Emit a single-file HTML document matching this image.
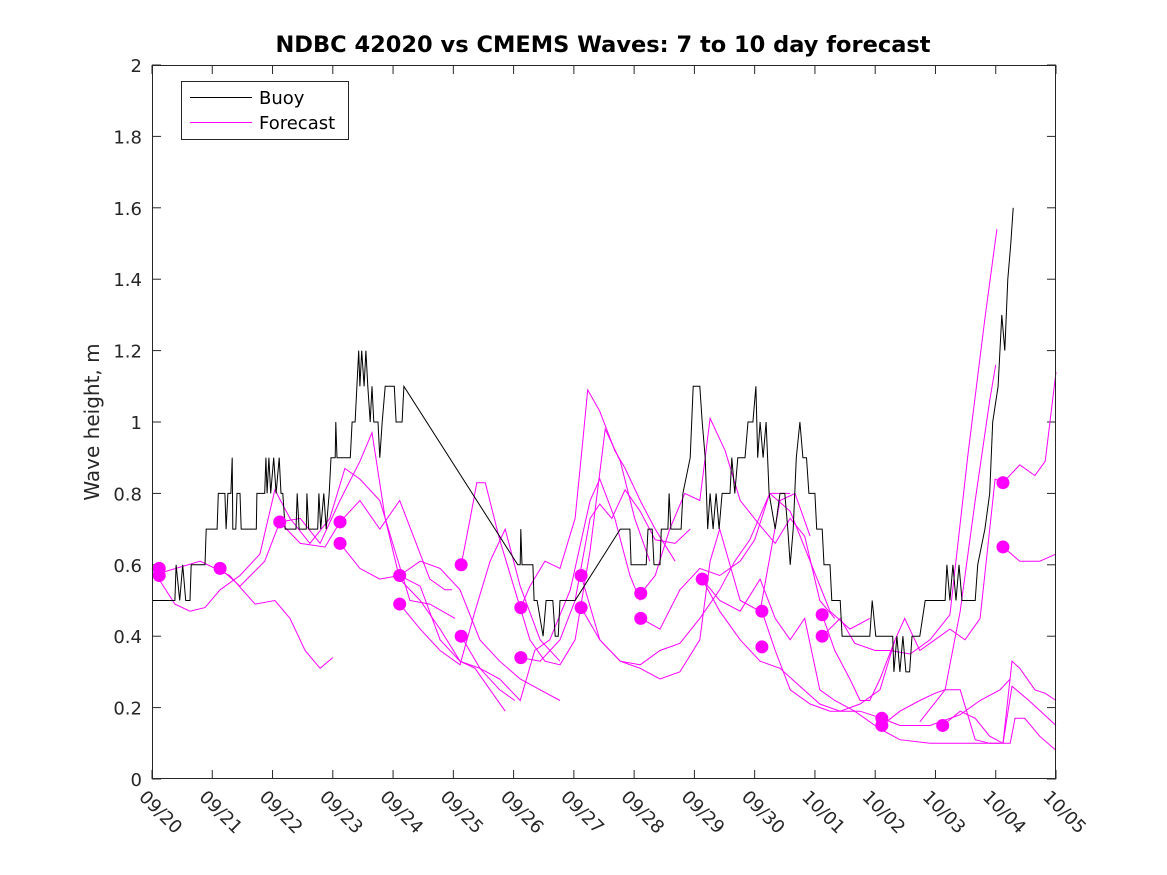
<!DOCTYPE html>
<html><head><meta charset="utf-8">
<style>
html,body{margin:0;padding:0;background:#fff;}
svg{display:block;font-family:"DejaVu Sans","Liberation Sans",sans-serif;}
</style></head>
<body>
<svg id="chart" width="1167" height="875" viewBox="0 0 1167 875">
  <rect x="0" y="0" width="1167" height="875" fill="#fff"/>
  <text x="603" y="52" text-anchor="middle" font-size="22.5" font-weight="bold" fill="#000">NDBC 42020 vs CMEMS Waves: 7 to 10 day forecast</text>
  <text transform="translate(99,422) rotate(-90)" text-anchor="middle" font-size="20" fill="#262626">Wave height, m</text>
  <g id="axes"></g>
  <g id="series"></g>
  <rect x="152.5" y="65.5" width="903" height="713" fill="none" stroke="#262626" stroke-width="1"/>
  <g>
    <rect x="181.5" y="81.5" width="167" height="58" fill="#fff" stroke="#262626" stroke-width="1"/>
    <line x1="190" y1="97.5" x2="252" y2="97.5" stroke="#000" stroke-width="1"/>
    <text x="259" y="104" font-size="18" fill="#000">Buoy</text>
    <line x1="190" y1="122.5" x2="252" y2="122.5" stroke="#ff00ff" stroke-width="1"/>
    <text x="259" y="129" font-size="18" fill="#000">Forecast</text>
  </g>
</svg>
<script>
const xTickLabels = ["09/20","09/21","09/22","09/23","09/24","09/25","09/26","09/27","09/28","09/29","09/30","10/01","10/02","10/03","10/04","10/05"];
const yTickValues = [0,0.2,0.4,0.6,0.8,1,1.2,1.4,1.6,1.8,2];
const yTickLabels = ["0","0.2","0.4","0.6","0.8","1","1.2","1.4","1.6","1.8","2"];

const buoyDays = [0,0.38,0.40,0.46,0.51,0.56,0.63,0.65,0.88,0.90,1.08,1.10,1.21,1.23,1.26,1.31,1.33,1.34,1.39,1.41,1.46,1.48,1.73,1.74,1.87,1.89,1.91,1.94,1.97,2.02,2.06,2.11,2.14,2.17,2.21,2.39,2.41,2.44,2.56,2.57,2.60,2.75,2.77,2.80,2.85,2.89,2.94,2.97,3.04,3.05,3.07,3.29,3.32,3.37,3.40,3.43,3.45,3.48,3.52,3.55,3.58,3.62,3.65,3.68,3.75,3.78,3.82,3.87,4.02,4.05,4.15,4.18,6.07,6.11,6.12,6.14,6.32,6.34,6.39,6.49,6.54,6.65,6.69,6.74,6.77,6.85,7.02,7.77,7.93,7.95,8.20,8.23,8.30,8.33,8.43,8.45,8.56,8.58,8.61,8.78,8.81,8.93,8.98,9.09,9.13,9.18,9.22,9.26,9.31,9.36,9.41,9.46,9.59,9.62,9.67,9.72,9.84,9.89,9.97,10.02,10.05,10.09,10.14,10.19,10.24,10.34,10.42,10.50,10.55,10.59,10.64,10.69,10.75,10.80,10.86,10.90,11.0,11.03,11.12,11.15,11.25,11.28,11.42,11.45,11.91,11.95,12.01,12.29,12.31,12.36,12.41,12.46,12.51,12.57,12.61,12.74,12.83,13.16,13.19,13.24,13.29,13.34,13.39,13.44,13.66,13.70,13.82,13.90,13.95,14.04,14.10,14.15,14.20,14.25,14.29];
const buoyValues = [0.5,0.5,0.6,0.5,0.6,0.5,0.5,0.6,0.6,0.7,0.7,0.8,0.8,0.7,0.8,0.8,0.9,0.7,0.7,0.8,0.8,0.7,0.7,0.8,0.8,0.9,0.8,0.9,0.8,0.9,0.8,0.9,0.8,0.8,0.7,0.7,0.8,0.7,0.7,0.8,0.7,0.7,0.8,0.7,0.8,0.7,0.8,0.9,0.9,1.0,0.9,0.9,1.0,1.0,1.1,1.2,1.1,1.2,1.1,1.2,1.1,1.0,1.1,1.0,1.0,0.9,1.0,1.1,1.1,1.0,1.0,1.1,0.6,0.6,0.7,0.6,0.6,0.5,0.5,0.4,0.5,0.5,0.4,0.4,0.5,0.5,0.5,0.7,0.7,0.6,0.6,0.7,0.7,0.6,0.6,0.7,0.7,0.8,0.7,0.7,0.8,0.9,1.1,1.1,1.0,0.9,0.7,0.8,0.7,0.8,0.7,0.8,0.8,0.9,0.8,0.9,0.9,1.0,1.0,1.1,0.9,1.0,0.9,1.0,0.8,0.7,0.8,0.8,0.7,0.6,0.7,0.9,1.0,0.9,0.9,0.8,0.8,0.7,0.7,0.6,0.6,0.5,0.5,0.4,0.4,0.5,0.4,0.4,0.3,0.4,0.3,0.4,0.3,0.3,0.4,0.4,0.5,0.5,0.6,0.5,0.6,0.5,0.6,0.5,0.5,0.6,0.7,0.8,1.0,1.1,1.3,1.2,1.4,1.5,1.6];

const fcA = [[0,0.59],[0.38,0.49],[0.63,0.47],[0.88,0.48],[1.13,0.53],[1.46,0.57],[1.79,0.63],[2.04,0.81],[2.29,0.73],[2.62,0.66],[2.95,0.73],[3.20,0.87],[3.45,0.84],[3.78,0.78],[4.03,0.64],[4.28,0.50],[4.61,0.49],[5.03,0.45]];
const fcB = [[0,0.57],[0.80,0.61],[1.29,0.57],[1.71,0.49],[2.04,0.50],[2.29,0.45],[2.54,0.36],[2.79,0.31],[3.0,0.34]];
const fcC = [[1.13,0.59],[1.46,0.54],[1.87,0.61],[2.12,0.72],[2.46,0.66],[2.87,0.65],[3.12,0.72],[3.45,0.78],[3.78,0.70],[4.11,0.78],[4.36,0.67],[4.61,0.56],[4.86,0.53],[4.98,0.53]];
const fcD = [[2.12,0.72],[2.46,0.73],[2.79,0.66],[3.12,0.78],[3.45,0.89],[3.65,0.97],[3.87,0.73],[4.11,0.56],[4.45,0.50],[4.78,0.42],[5.11,0.33],[5.36,0.31],[5.61,0.25],[5.86,0.19]];
const fcE = [[3.12,0.66],[3.45,0.59],[3.78,0.56],[4.11,0.57],[4.45,0.54],[4.78,0.39],[5.11,0.33],[5.44,0.31],[5.77,0.25],[6.02,0.22]];
const fcF = [[4.11,0.57],[4.45,0.61],[4.78,0.59],[5.11,0.53],[5.44,0.39],[5.77,0.33],[6.11,0.28],[6.44,0.25],[6.77,0.22]];
const fcG = [[4.11,0.49],[4.45,0.42],[4.78,0.36],[5.11,0.32],[5.36,0.47],[5.61,0.61],[5.86,0.70],[6.11,0.54],[6.44,0.39],[6.77,0.33]];
const fcH = [[5.13,0.60],[5.28,0.73],[5.39,0.83],[5.53,0.83],[5.77,0.67],[6.02,0.53],[6.27,0.39],[6.52,0.33],[6.77,0.32],[7.02,0.39],[7.27,0.64],[7.52,0.98],[7.77,0.89],[8.01,0.73],[8.26,0.61]];
const fcI = [[5.13,0.40],[5.44,0.31],[5.77,0.28],[6.11,0.22],[6.35,0.36],[6.60,0.39],[6.94,0.53],[7.27,0.78],[7.43,0.84],[7.68,0.73],[7.93,0.57],[8.10,0.50]];
const fcJ = [[6.12,0.48],[6.27,0.54],[6.52,0.61],[6.77,0.59],[7.02,0.73],[7.15,0.95],[7.23,1.09],[7.43,1.03],[7.68,0.92],[7.85,0.87],[8.10,0.78],[8.35,0.70],[8.68,0.61]];
const fcK = [[6.12,0.34],[6.44,0.33],[6.77,0.39],[7.02,0.50],[7.27,0.73],[7.43,0.77],[7.63,0.73],[7.85,0.81],[8.10,0.75],[8.35,0.67],[8.68,0.66],[8.93,0.70]];
const fcL = [[7.12,0.57],[7.43,0.39],[7.77,0.33],[8.10,0.32],[8.43,0.36],[8.76,0.38],[9.09,0.45],[9.42,0.53],[9.67,0.61],[9.92,0.67],[10.25,0.80],[10.59,0.80]];
const fcM = [[7.12,0.48],[7.43,0.39],[7.77,0.33],[8.10,0.31],[8.43,0.28],[8.76,0.30],[9.09,0.39],[9.26,0.61],[9.42,0.70],[9.76,0.50],[10.09,0.47],[10.42,0.78],[10.67,0.80],[10.92,0.68]];
const fcN = [[8.11,0.52],[8.35,0.57],[8.59,0.70],[8.84,0.80],[9.09,0.78],[9.26,1.01],[9.51,0.92],[9.76,0.78],[10.09,0.71],[10.34,0.66],[10.59,0.73],[10.83,0.68],[11.08,0.50],[11.33,0.45]];
const fcO = [[8.11,0.45],[8.43,0.42],[8.76,0.53],[9.09,0.59],[9.42,0.57],[9.76,0.61],[10.0,0.67],[10.25,0.80],[10.59,0.75],[10.92,0.61],[11.25,0.47],[11.58,0.42],[11.91,0.45]];
const fcP = [[9.13,0.56],[9.42,0.47],[9.76,0.39],[10.09,0.33],[10.42,0.31],[10.75,0.26],[11.08,0.21],[11.42,0.19],[11.75,0.21],[12.08,0.25],[12.33,0.39]];
const fcQ = [[9.13,0.56],[9.42,0.50],[9.76,0.47],[10.09,0.56],[10.34,0.45],[10.59,0.39],[10.83,0.45],[11.08,0.25],[11.33,0.22],[11.66,0.19],[12.08,0.14],[12.41,0.11],[12.91,0.10],[13.41,0.10],[14.07,0.10]];
const fcR = [[10.12,0.47],[10.34,0.36],[10.59,0.25],[10.92,0.21],[11.25,0.19],[11.75,0.19],[12.11,0.17],[12.41,0.15],[12.91,0.15],[13.41,0.18],[13.74,0.22],[14.07,0.25],[14.24,0.28]];
const fcS = [[11.12,0.46],[11.33,0.36],[11.58,0.28],[11.75,0.22],[11.91,0.22],[12.08,0.28],[12.33,0.39],[12.49,0.45],[12.74,0.36],[12.99,0.39],[13.24,0.42],[13.49,0.39],[13.74,0.45],[13.99,0.84],[14.12,0.83],[14.40,0.88],[14.65,0.85],[14.82,0.89],[15.0,1.14]];
const fcT = [[11.12,0.40],[11.42,0.45],[11.66,0.38],[12.0,0.36],[12.24,0.36],[12.58,0.35],[12.91,0.39],[13.24,0.46],[13.54,0.91],[13.82,1.29],[14.02,1.54]];
const fcU = [[12.11,0.15],[12.41,0.19],[12.74,0.22],[12.99,0.24],[13.16,0.25],[13.41,0.25],[13.66,0.11],[13.90,0.10],[14.12,0.10],[14.27,0.33],[14.40,0.31],[14.65,0.25],[14.82,0.24],[15.0,0.22]];
const fcV = [[13.12,0.15],[13.41,0.19],[13.66,0.17],[13.90,0.12],[14.12,0.10],[14.24,0.10],[14.32,0.17],[14.48,0.17],[14.73,0.12],[15.0,0.08]];
const fcW = [[14.12,0.65],[14.40,0.61],[14.73,0.61],[15.0,0.63]];
const fcY = [[12.74,0.16],[13.16,0.25],[13.41,0.47],[13.66,0.78],[13.90,1.06],[14.0,1.16]];
const fcZ = [[14.12,0.10],[14.27,0.26],[14.55,0.22],[15.0,0.15]];
const forecastSeries = [fcA,fcB,fcC,fcD,fcE,fcF,fcG,fcH,fcI,fcJ,fcK,fcL,fcM,fcN,fcO,fcP,fcQ,fcR,fcS,fcT,fcU,fcV,fcW,fcY,fcZ];

const dotDays = [0.12,0.12,1.13,2.12,3.12,3.12,4.11,4.11,5.13,5.13,6.12,6.12,7.12,7.12,8.11,8.11,9.13,10.12,10.12,11.12,11.12,12.11,12.11,13.12,14.12,14.12];
const dotValues = [0.59,0.57,0.59,0.72,0.72,0.66,0.57,0.49,0.60,0.40,0.48,0.34,0.57,0.48,0.52,0.45,0.56,0.47,0.37,0.46,0.40,0.17,0.15,0.15,0.83,0.65];

const X0 = 152, X1 = 1056, Y0 = 779, Y1 = 65;
const xDomain = [0, 15], yDomain = [0, 2];
function xs(d){ return X0 + (d - xDomain[0]) / (xDomain[1] - xDomain[0]) * (X1 - X0); }
function ys(v){ return Y0 - (v - yDomain[0]) / (yDomain[1] - yDomain[0]) * (Y0 - Y1); }
const NS = "http://www.w3.org/2000/svg";
const axes = document.getElementById('axes');
const series = document.getElementById('series');

xTickLabels.forEach(function(lbl, i){
  const x = xs(i);
  const t1 = document.createElementNS(NS,'line');
  t1.setAttribute('x1', x); t1.setAttribute('x2', x);
  t1.setAttribute('y1', Y0); t1.setAttribute('y2', Y0 - 9);
  t1.setAttribute('stroke', '#262626');
  
  
  axes.appendChild(t1);
  const t2 = document.createElementNS(NS,'line');
  t2.setAttribute('x1', x); t2.setAttribute('x2', x);
  t2.setAttribute('y1', Y1); t2.setAttribute('y2', Y1 + 9);
  t2.setAttribute('stroke', '#262626');
  
  
  axes.appendChild(t2);
  const tx = document.createElementNS(NS,'text');
  tx.setAttribute('transform', 'translate(' + (x - 14) + ',' + (Y0 + 19) + ') rotate(45)');
  tx.setAttribute('font-size', '18');
  tx.setAttribute('fill', '#262626');
  tx.textContent = lbl;
  
  
  axes.appendChild(tx);
});

yTickValues.forEach(function(v, i){
  const y = ys(v);
  const t1 = document.createElementNS(NS,'line');
  t1.setAttribute('x1', X0); t1.setAttribute('x2', X0 + 9);
  t1.setAttribute('y1', y); t1.setAttribute('y2', y);
  t1.setAttribute('stroke', '#262626');
  
  
  axes.appendChild(t1);
  const t2 = document.createElementNS(NS,'line');
  t2.setAttribute('x1', X1); t2.setAttribute('x2', X1 - 9);
  t2.setAttribute('y1', y); t2.setAttribute('y2', y);
  t2.setAttribute('stroke', '#262626');
  
  
  axes.appendChild(t2);
  const tx = document.createElementNS(NS,'text');
  tx.setAttribute('x', X0 - 10);
  tx.setAttribute('y', y + 7);
  tx.setAttribute('text-anchor', 'end');
  tx.setAttribute('font-size', '18');
  tx.setAttribute('fill', '#262626');
  tx.textContent = yTickLabels[i];
  
  
  axes.appendChild(tx);
});

forecastSeries.forEach(function(s){
  const p = document.createElementNS(NS,'polyline');
  p.setAttribute('points', s.map(function(pt){ return xs(pt[0]).toFixed(1) + ',' + ys(pt[1]).toFixed(1); }).join(' '));
  p.setAttribute('fill', 'none');
  p.setAttribute('stroke', '#ff00ff');
  p.setAttribute('stroke-width', '1');
  
  
  series.appendChild(p);
});

const bp = document.createElementNS(NS,'polyline');
bp.setAttribute('points', buoyDays.map(function(d, i){ return xs(d).toFixed(1) + ',' + ys(buoyValues[i]).toFixed(1); }).join(' '));
bp.setAttribute('fill', 'none');
bp.setAttribute('stroke', '#000');
bp.setAttribute('stroke-width', '1');


series.appendChild(bp);

dotDays.forEach(function(d, i){
  const c = document.createElementNS(NS,'circle');
  c.setAttribute('cx', xs(d));
  c.setAttribute('cy', ys(dotValues[i]));
  c.setAttribute('r', '6.5');
  c.setAttribute('fill', '#ff00ff');
  
  
  series.appendChild(c);
});
</script>
</body></html>
